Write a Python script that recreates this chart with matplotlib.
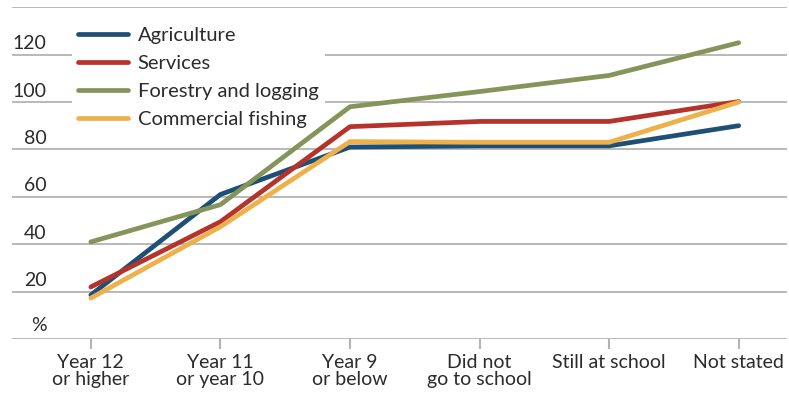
import matplotlib.pyplot as plt
from matplotlib.transforms import blended_transform_factory

plt.rcParams['font.family'] = ['Lato', 'DejaVu Sans']

categories = ['Year 12\nor higher', 'Year 11\nor year 10', 'Year 9\nor below',
              'Did not\ngo to school', 'Still at school', 'Not stated']
agriculture = [18.6, 61, 81, 81.5, 81.5, 90]
services = [22, 49.5, 89.6, 91.8, 91.8, 100.2]
forestry = [41, 56.7, 98, 104.4, 111.2, 125]
fishing = [17.3, 47.4, 83.3, 83, 83, 100]
yticks = [20, 40, 60, 80, 100, 120]

series = [
    ('Agriculture', agriculture, '#1d5074'),
    ('Services', services, '#b5332a'),
    ('Forestry and logging', forestry, '#84945a'),
    ('Commercial fishing', fishing, '#eeb04a'),
]

txt = '#2b2b2b'
grid = '#b3b3b3'

fig = plt.figure(figsize=(7.89, 3.98), dpi=100)
ax = fig.add_axes([0.015, 0.148, 0.982, 0.834])

x = list(range(len(categories)))
for name, vals, col in series:
    ax.plot(x, vals, color=col, lw=3.4, label=name, solid_capstyle='round', zorder=3)

ax.set_ylim(0, 140)
ax.set_xlim(-0.61, 5.37)
for v in [0] + yticks + [140]:
    ax.axhline(v, color=grid, lw=1.3, zorder=1)

ax.set_yticks([])
ax.set_xticks(x)
ax.set_xticklabels(categories, fontsize=14, color=txt, linespacing=1.0)
ax.tick_params(axis='x', length=7, width=1.5, color=grid, pad=4)
for s in ax.spines.values():
    s.set_visible(False)

tr = blended_transform_factory(ax.transAxes, ax.transData)
for v in yticks:
    ax.text(0.045, v + 1, str(v), transform=tr, ha='right', va='bottom',
            fontsize=14, color=txt)
ax.text(0.045, 2, '%', transform=tr, ha='right', va='bottom', fontsize=14, color=txt)

leg = ax.legend(loc='upper left', bbox_to_anchor=(0.065, 0.99), fontsize=14.5,
                frameon=True, facecolor='white', edgecolor='none', framealpha=1,
                handlelength=2.45, handletextpad=0.5, labelspacing=0.55,
                borderpad=0.3, fancybox=False)
for t in leg.get_texts():
    t.set_color(txt)
leg.set_zorder(2)

fig.savefig('out.png', dpi=100)
